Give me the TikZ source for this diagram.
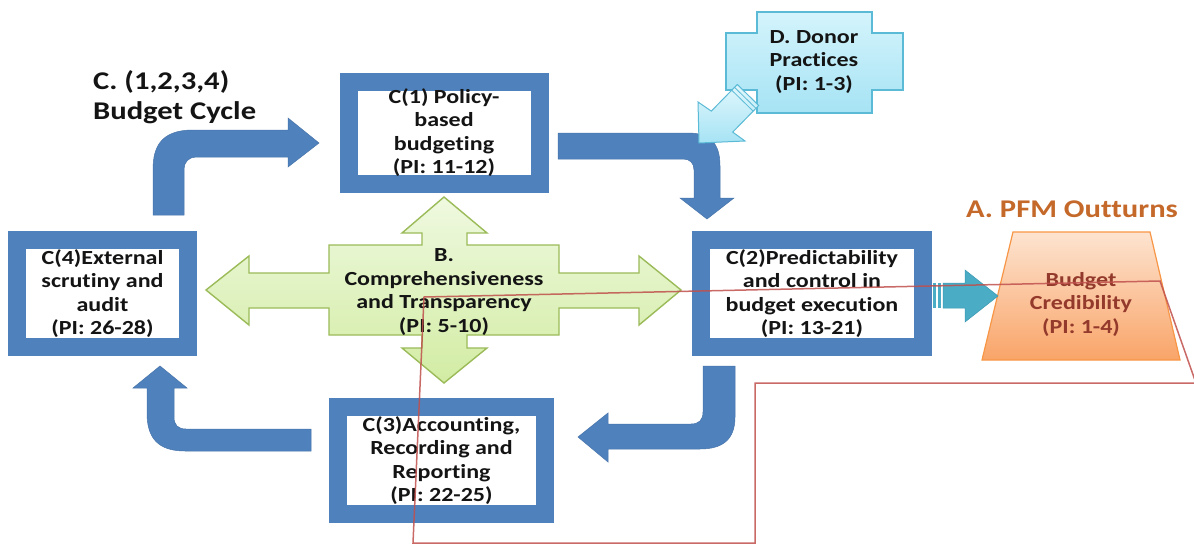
\documentclass[tikz,border=0pt]{standalone}
\usepackage{fontspec}
\setmainfont{Carlito}[FakeStretch=1.2, Ligatures={NoCommon}]
\definecolor{cblue}{HTML}{4F81BD}
\definecolor{gfillT}{HTML}{EFF9E0}
\definecolor{gfillB}{HTML}{D2ECA3}
\definecolor{gedge}{HTML}{9BBB59}
\definecolor{dfillT}{HTML}{D4F4FC}
\definecolor{dfillB}{HTML}{A6E3F4}
\definecolor{dedge}{HTML}{5BBAD5}
\definecolor{teal}{HTML}{4BACC6}
\definecolor{tealedge}{HTML}{3A98B2}
\definecolor{ofillT}{HTML}{FDE4D0}
\definecolor{ofillB}{HTML}{F9A468}
\definecolor{oedge}{HTML}{F79646}
\definecolor{otext}{HTML}{943A2C}
\definecolor{atitle}{HTML}{C4692A}
\definecolor{redline}{HTML}{C0504D}
\definecolor{dtext}{HTML}{141414}
\begin{document}
\begin{tikzpicture}[x=1pt,y=-1pt,
  cyclebox/.style={fill=white, draw=cblue, line width=18pt, inner sep=0pt, align=center,
     text=dtext, font=\bfseries\fontsize{20}{23.5}\selectfont},
  blockarrow/.style={fill=cblue, draw=cblue!90!black, line width=0.5pt},
  lbl/.style={inner sep=0pt, align=center, font=\bfseries\fontsize{20}{23.5}\selectfont}]
\clip (0,0) rectangle (1194,546);
\fill[white] (0,0) rectangle (1194,546);

% title
\node[anchor=west, align=left, inner sep=0pt, text=dtext,
      font=\bfseries\fontsize{25.5}{30}\selectfont] (title) at (93,97) {C. (1,2,3,4)\\Budget Cycle};

% green four-way arrow
\path[draw=gedge, line width=1.4pt, top color=gfillT, bottom color=gfillB]
  (206,290) -- (249,256) -- (249,273) -- (329,273) -- (329,245) -- (422,245) -- (422,233)
  -- (402,233) -- (444,197) -- (487,233) -- (467,233) -- (467,245) -- (559,245) -- (559,273)
  -- (639,273) -- (639,256) -- (681,290) -- (639,325) -- (639,308) -- (559,308) -- (559,335)
  -- (467,335) -- (467,348) -- (487,348) -- (444,383) -- (402,348) -- (422,348) -- (422,335)
  -- (329,335) -- (329,308) -- (249,308) -- (249,325) -- cycle;
\node[lbl, text=dtext] (b) at (444,292) {B.\\Comprehensiveness\\and Transparency\\(PI: 5-10)};

% cycle boxes
\node[cyclebox, minimum width=191pt, minimum height=102pt] (c1) at (444,132.5)
  {C(1) Policy-\\based\\budgeting\\(PI: 11-12)};
\node[cyclebox, minimum width=222pt, minimum height=107pt] (c2) at (812,293.5)
  {C(2)Predictability\\and control in\\budget execution\\(PI: 13-21)};
\node[cyclebox, minimum width=207pt, minimum height=107pt] (c3) at (441.5,460.5)
  {C(3)Accounting,\\Recording and\\Reporting\\(PI: 22-25)};
\node[cyclebox, minimum width=171pt, minimum height=107pt] (c4) at (102.5,293.5)
  {C(4)External\\scrutiny and\\audit\\(PI: 26-28)};

% bent arrows of the cycle
\path[blockarrow] (153,215) -- (153,170) .. controls (153,148) and (160,130) .. (193,130)
  -- (288,130) -- (288,118) -- (319,143) -- (288,167) -- (288,157) -- (196,157)
  .. controls (189,157) and (184,162) .. (184,169) -- (184,215) -- cycle;
\path[blockarrow] (558,133) -- (688,133) .. controls (710,133) and (720,143) .. (720,166)
  -- (720,198) -- (734,198) -- (707,219) -- (680,198) -- (694,198) -- (694,170)
  .. controls (694,163) and (690,159) .. (683,159) -- (558,159) -- cycle;
\path[blockarrow] (703,366) -- (735,366) -- (735,417) .. controls (735,440) and (722,449) .. (700,449)
  -- (608,449) -- (608,462) -- (578,437) -- (608,413) -- (608,424) -- (691,424)
  .. controls (699,424) and (703,420) .. (703,412) -- cycle;
\path[blockarrow] (311,429) -- (186,429) .. controls (178,429) and (174,425) .. (174,417)
  -- (174,388) -- (187,388) -- (160,366) -- (133,388) -- (147,388) -- (147,413)
  .. controls (147,438) and (158,451) .. (185,451) -- (311,451) -- cycle;

% donor practices
\path[draw=dedge, line width=1.2pt, top color=dfillT, bottom color=dfillB]
  (757,12) -- (872,12) -- (872,33) -- (903,33) -- (903,90) -- (872,90) -- (872,113)
  -- (757,113) -- (757,90) -- (726,90) -- (726,33) -- (757,33) -- cycle;
\node[lbl, text=dtext] (d) at (814,62) {D. Donor\\Practices\\(PI: 1-3)};
\path[draw=dedge, line width=1pt, top color=dfillT!70!white, bottom color=dfillB]
  (737.3,84.5) -- (711.3,111.1) -- (698,102) -- (699,143) -- (745,141)
  -- (732.7,132.1) -- (758.7,105.5) -- cycle;
\draw[dedge, line width=0.8pt] (734.5,87.3) -- (755.9,108.3);
\draw[dedge, line width=0.8pt] (731.7,90.2) -- (753.1,111.1);

% PFM outturns
\node[inner sep=0pt, text=atitle, font=\bfseries\fontsize{25.5}{30}\selectfont] (a) at (1072,209) {A. PFM Outturns};
\path[draw=oedge, line width=1.2pt, top color=ofillT, bottom color=ofillB]
  (1013,232) -- (1150,232) -- (1180,360) -- (982,360) -- cycle;
\node[lbl, text=otext] (cred) at (1081,304) {Budget\\Credibility\\(PI: 1-4)};

% teal striped arrow
\fill[teal] (933,283) rectangle (936,308);
\fill[teal] (938,283) rectangle (941,308);
\path[fill=teal, draw=tealedge, line width=0.5pt] (943,283) -- (965,283) -- (965,270) -- (998,296)
  -- (965,322) -- (965,308) -- (943,308) -- cycle;

% red outline
\draw[redline, opacity=0.85, line width=1.5pt]
  (1200,383) -- (755,383) -- (755,543) -- (413,543) -- (424,297) -- (1160,281) -- (1197,386);
\end{tikzpicture}
\end{document}
